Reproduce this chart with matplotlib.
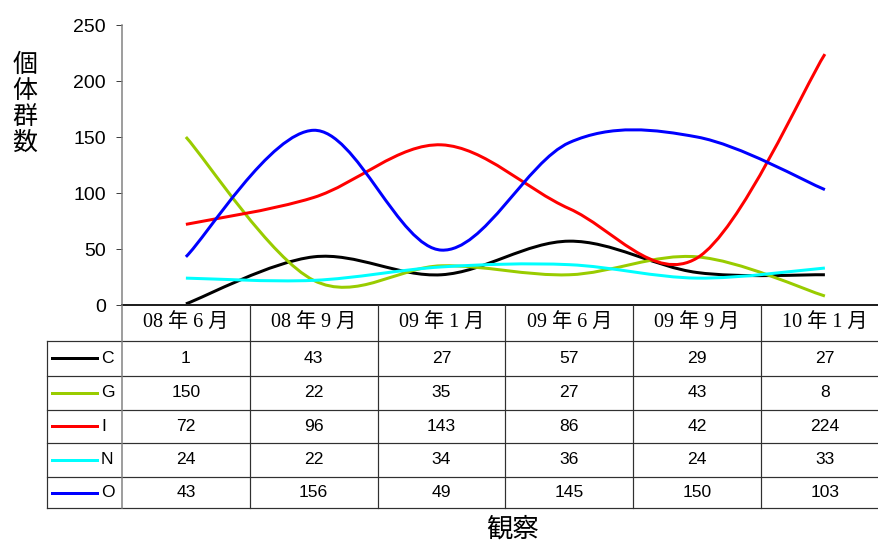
import matplotlib
matplotlib.use('Agg')
import matplotlib.pyplot as plt
from matplotlib.path import Path
from matplotlib.patches import PathPatch
from matplotlib.lines import Line2D
import numpy as np

# ---------------- data ----------------
categories = ['08 年 6 月', '08 年 9 月', '09 年 1 月', '09 年 6 月', '09 年 9 月', '10 年 1 月']
series_names = ['C', 'G', 'I', 'N', 'O']
C = [1, 43, 27, 57, 29, 27]
G = [150, 22, 35, 27, 43, 8]
I = [72, 96, 143, 86, 42, 224]
N = [24, 22, 34, 36, 24, 33]
O = [43, 156, 49, 145, 150, 103]
series_values = [C, G, I, N, O]
series_colors = ['#000000', '#99CC00', '#FF0000', '#00FFFF', '#0000FF']
y_ticks = [0, 50, 100, 150, 200, 250]
y_label = '個体群数'
x_label = '観察'

# ---------------- layout helpers ----------------
W, H = 879, 543
fig = plt.figure(figsize=(W / 100, H / 100), dpi=100)
fig.patch.set_facecolor('white')


def fx(x):
    return x / W


def fy(y):
    return 1 - y / H


def pt(px):
    return px * 72 / 100


X0, Y0, YT = 122, 305, 25
colw = 127.8
ax = fig.add_axes([fx(X0), fy(Y0), fx(W) - fx(X0), fy(YT) - fy(Y0)])
ax.set_xlim(-0.5, -0.5 + (W - X0) / colw)
ax.set_ylim(0, 250)
ax.set_facecolor('none')
for s in ['top', 'right']:
    ax.spines[s].set_visible(False)
ax.spines['left'].set_color('#808080')
ax.spines['left'].set_linewidth(pt(1.5))
ax.spines['bottom'].set_color('#202020')
ax.spines['bottom'].set_linewidth(pt(2))
ax.set_xticks([])
ax.set_yticks(y_ticks)
ax.set_yticklabels([str(v) for v in y_ticks], family='Liberation Sans', fontsize=14)
ax.tick_params(axis='y', direction='out', length=pt(6), width=pt(1), color='#404040', pad=pt(10))


def smooth_path(xs, ys):
    pts = np.column_stack([xs, ys]).astype(float)
    n = len(pts)
    verts = [pts[0]]
    codes = [Path.MOVETO]
    for i in range(n - 1):
        p0 = pts[i - 1] if i > 0 else pts[i]
        p1 = pts[i]
        p2 = pts[i + 1]
        p3 = pts[i + 2] if i + 2 < n else pts[i + 1]
        c1 = p1 + (p2 - p0) / 6
        c2 = p2 - (p3 - p1) / 6
        verts += [c1, c2, p2]
        codes += [Path.CURVE4] * 3
    return Path(verts, codes)


xs = np.arange(len(categories))
for vals, col in zip(series_values, series_colors):
    patch = PathPatch(smooth_path(xs, vals), facecolor='none', edgecolor=col,
                      linewidth=pt(3), joinstyle='round', capstyle='butt', clip_on=False)
    ax.add_patch(patch)

# ---------------- data table ----------------
row_y = [341, 375.5, 409.5, 443, 477, 508]
LX = 47
line_kw = dict(transform=fig.transFigure, color='#303030', linewidth=pt(1.2))
# horizontal lines
for y in row_y:
    fig.add_artist(Line2D([fx(LX), fx(W)], [fy(y), fy(y)], **line_kw))
# vertical lines
fig.add_artist(Line2D([fx(LX), fx(LX)], [fy(row_y[0]), fy(row_y[-1])], **line_kw))
fig.add_artist(Line2D([fx(X0), fx(X0)], [fy(Y0), fy(row_y[-1])], transform=fig.transFigure,
                      color='#808080', linewidth=pt(1.5)))
for k in range(1, len(categories) + 1):
    x = X0 + k * colw
    fig.add_artist(Line2D([fx(x), fx(x)], [fy(Y0), fy(row_y[-1])], **line_kw))

# header
for i, c in enumerate(categories):
    fig.text(fx(X0 + (i + 0.5) * colw), fy(323), c, ha='center', va='center',
             fontsize=14.5, family=['Liberation Serif', 'Noto Sans CJK JP'])

# rows
for r, (name, vals, col) in enumerate(zip(series_names, series_values, series_colors)):
    yc = (row_y[r] + row_y[r + 1]) / 2
    fig.add_artist(Line2D([fx(52), fx(97)], [fy(yc), fy(yc)], transform=fig.transFigure,
                          color=col, linewidth=pt(3)))
    fig.text(fx(101), fy(yc), name, ha='left', va='center', fontsize=12.6, family='Liberation Sans')
    for i, v in enumerate(vals):
        fig.text(fx(X0 + (i + 0.5) * colw), fy(yc), str(v), ha='center', va='center',
                 fontsize=12.6, family='Liberation Sans')

# axis labels
fig.text(fx(25), fy(104), '\n'.join(y_label), ha='center', va='center', fontsize=18,
         linespacing=1.0, family=['Noto Sans CJK JP', 'DejaVu Sans'])
fig.text(fx(513), fy(529), x_label, ha='center', va='center', fontsize=19,
         family=['Noto Sans CJK JP', 'DejaVu Sans'])

fig.savefig('out.png', dpi=100, facecolor='white')
